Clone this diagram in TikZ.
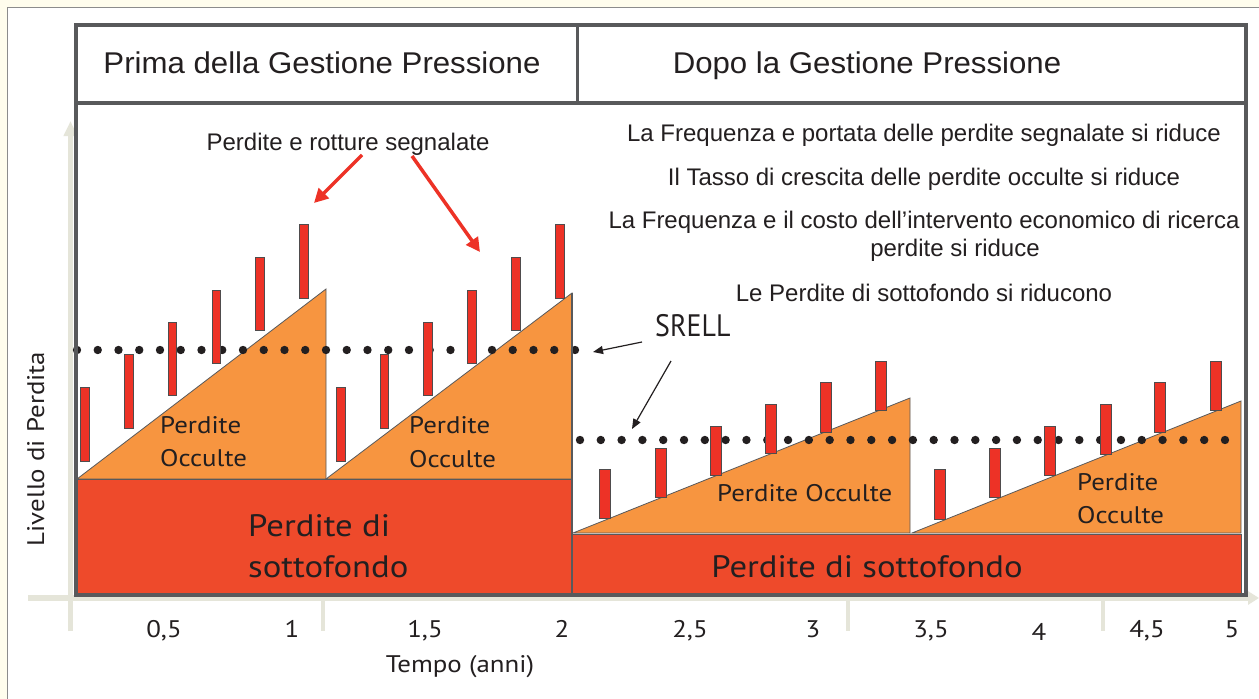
\documentclass[tikz,border=0pt]{standalone}
\usepackage{fontspec}
\setmainfont[FakeStretch=1.12]{PT Sans}
\newfontfamily\srellf[FakeStretch=0.9]{PT Sans}
\newfontfamily\arialf{Liberation Sans}
\newfontfamily\arialh[FakeStretch=1.04]{Liberation Sans}
\usetikzlibrary{arrows.meta}
\definecolor{cream}{RGB}{255,253,237}
\definecolor{framegray}{RGB}{88,89,91}
\definecolor{axisgray}{RGB}{229,229,217}
\definecolor{orng}{RGB}{247,149,64}
\definecolor{bandred}{RGB}{238,74,43}
\definecolor{barred}{RGB}{237,50,38}
\definecolor{txt}{RGB}{35,31,32}
\definecolor{outergray}{RGB}{140,140,140}
\definecolor{arrred}{RGB}{237,50,38}
\tikzset{
  shapeline/.style={draw=framegray, line width=0.8pt},
  tri/.style={shapeline, fill=orng},
  band/.style={shapeline, fill=bandred},
  barbox/.style={draw=txt!80, line width=0.8pt, fill=barred},
  dotfill/.style={fill=txt},
  axisline/.style={draw=axisgray, line width=5.5pt},
  ticksty/.style={draw=axisgray, line width=4pt},
  mfont/.style={text=txt, font=\fontsize{24}{28}\selectfont, inner sep=0pt},
  bigfont/.style={text=txt, font=\fontsize{31}{36}\selectfont, inner sep=0pt},
  srellfont/.style={text=txt, font=\srellf\fontsize{31}{36}\selectfont, inner sep=0pt},
  afont/.style={text=txt, font=\arialf\fontsize{24}{28}\selectfont, inner sep=0pt},
  hfont/.style={text=txt, font=\arialh\fontsize{30}{34}\selectfont, inner sep=0pt},
  redarrow/.style={draw=arrred, line width=3.5pt, -{Triangle[length=14pt,width=14pt]}},
  blkarrow/.style={draw=txt, line width=1.2pt, -{Triangle[length=10pt,width=8pt]}},
}
\begin{document}
\begin{tikzpicture}[x=1pt,y=-1pt]
\useasboundingbox (0,0) rectangle (1259,699);
\fill[cream] (0,0) rectangle (1259,699);
\filldraw[fill=white, draw=outergray, line width=1pt] (7,7) rectangle (1266,706);

% axes
\coordinate (yb) at (70.5,631);
\coordinate (yt) at (70.5,121);
\coordinate (xl) at (28,598);
\coordinate (xr) at (1259,598);
\draw[axisline, -{Triangle[length=15pt,width=13pt]}, axisgray] (yb) -- (yt);
\draw[axisline, -{Triangle[length=11pt,width=13pt]}, axisgray] (xl) -- (xr);
\foreach \tx in {70.5,323,848,1103}{
  \draw[ticksty] (\tx,598) -- (\tx,631);
}

% orange triangles
\draw[tri] (77,479) -- (326,289) -- (326,479) -- cycle;
\draw[tri] (326,479) -- (572,293) -- (572,479) -- cycle;
\draw[tri] (573,533) -- (910,398) -- (910,533) -- cycle;
\draw[tri] (912,533) -- (1241,401) -- (1241,533) -- cycle;

% red bands
\draw[band] (77,479) rectangle (572,595);
\draw[band] (572,534) rectangle (1241,594);

% dotted SRELL lines
\foreach \i in {0,...,24}{
  \fill[dotfill] ({77+\i*20.75},350) circle (4.2pt);
}
\foreach \i in {0,...,31}{
  \fill[dotfill] ({580+\i*20.806},440) circle (4.2pt);
}

% red bars, before
\foreach \cx/\t/\b in {85/387/461,129/354/428,172.5/322/395,216.5/290/363,260/257/330,304/224/298,
  341/387/461,384.5/354/428,428/322/395,472/290/363,516/257/330,560/224/298}{
  \draw[barbox] (\cx-4.3,\t) rectangle (\cx+4.3,\b);
}
% red bars, after
\foreach \cx/\t/\b in {605/469/518,660.5/448/497,715.5/426/475,771/404/453,826/382/432,881/361/410,
  939.5/469/519,994.5/448/497,1049.5/426/475,1105.5/404/454,1160/382/432,1216/361/410}{
  \draw[barbox] (\cx-5.6,\t) rectangle (\cx+5.6,\b);
}

% main frame
\draw[framegray, line width=3.5pt] (76,25) rectangle (1246,595);
\draw[framegray, line width=3.5pt] (76,103) -- (1246,103);
\draw[framegray, line width=3pt] (577,25) -- (577,104);
\draw[framegray, line width=1.2pt] (572,293) -- (572,595);

% header texts
\node[hfont, anchor=base] (hpre) at (322,73) {Prima della Gestione Pressione};
\node[hfont, anchor=base] (hpost) at (867,73) {Dopo la Gestione Pressione};

% right-hand texts
\node[afont, anchor=base] (r1) at (924,141) {La Frequenza e portata delle perdite segnalate si riduce};
\node[afont, anchor=base] (r2) at (924,185) {Il Tasso di crescita delle perdite occulte si riduce};
\node[afont, anchor=base] (r3) at (924,228) {La Frequenza e il costo dell’intervento economico di ricerca};
\node[afont, anchor=base] (r4) at (955,256) {perdite si riduce};
\node[afont, anchor=base] (r5) at (924,301) {Le Perdite di sottofondo si riducono};

% signalled leaks
\node[afont, anchor=base] (seg) at (348,150) {Perdite e rotture segnalate};
\coordinate (ra1s) at (362,155);
\coordinate (ra1e) at (314,203);
\coordinate (ra2s) at (412,156);
\coordinate (ra2e) at (480,252);
\draw[redarrow] (ra1s) -- (ra1e);
\draw[redarrow] (ra2s) -- (ra2e);

% SRELL
\node[srellfont, anchor=base west] (srell) at (655,336) {SRELL};
\coordinate (sa1s) at (642,342);
\coordinate (sa1e) at (593,352);
\coordinate (sa2s) at (671,361);
\coordinate (sa2e) at (632,429);
\draw[blkarrow] (sa1s) -- (sa1e);
\draw[blkarrow] (sa2s) -- (sa2e);

% labels in shapes
\node[mfont, anchor=base west] (po1a) at (160,433) {Perdite};
\node[mfont, anchor=base west] (po1b) at (160,466) {Occulte};
\node[mfont, anchor=base west] (po2a) at (409,433) {Perdite};
\node[mfont, anchor=base west] (po2b) at (409,467) {Occulte};
\node[mfont, anchor=base west] (po3) at (717,501) {Perdite Occulte};
\node[mfont, anchor=base west] (po4a) at (1077,490) {Perdite};
\node[mfont, anchor=base west] (po4b) at (1077,523) {Occulte};
\node[bigfont, anchor=base west] (ps1a) at (248,536) {Perdite di};
\node[bigfont, anchor=base west] (ps1b) at (248,577) {sottofondo};
\node[bigfont, anchor=base] (ps2) at (867,577) {Perdite di sottofondo};

% axis labels
\foreach \lx/\lab in {164/{0,5},292/1,425/{1,5},562/2,690/{2,5},813/3,931/{3,5},1147/{4,5},1232/5}{
  \node[mfont, anchor=base] at (\lx,637) {\lab};
}
\node[mfont, anchor=base] (t4) at (1039,640) {4};
\node[mfont, anchor=base] (tempo) at (460,672) {Tempo (anni)};
\node[mfont, anchor=base, rotate=90] (livello) at (44,449) {Livello di Perdita};
\end{tikzpicture}
\end{document}
